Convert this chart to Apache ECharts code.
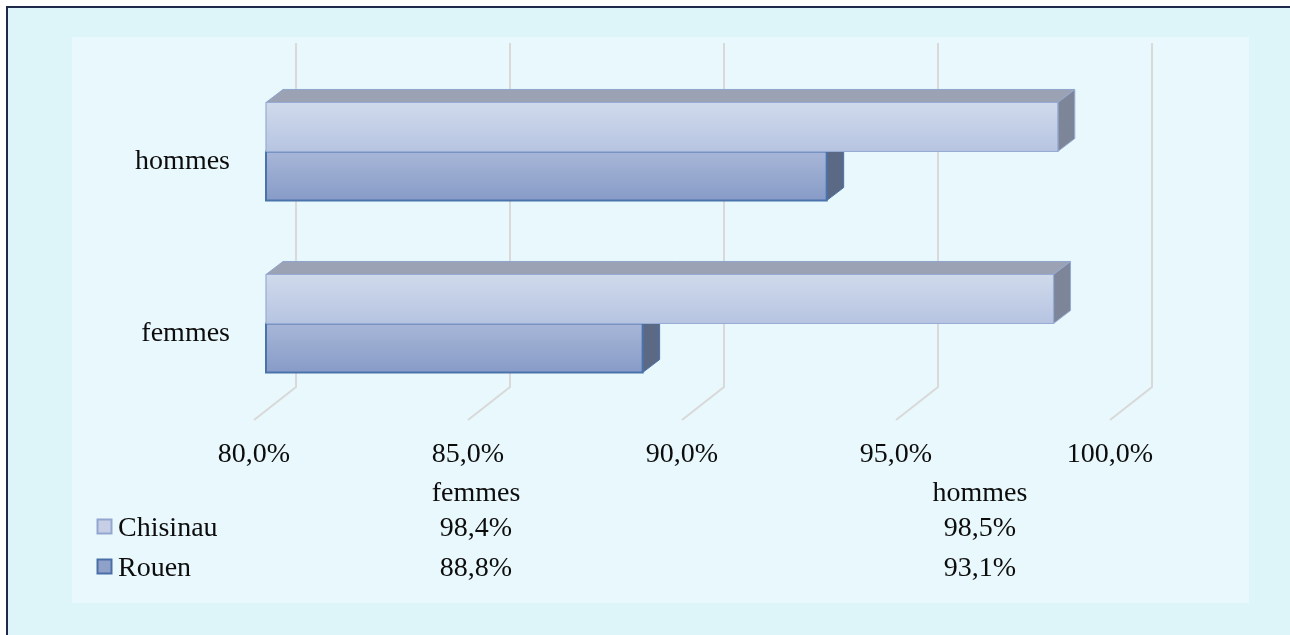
<!DOCTYPE html>
<html><head><meta charset="utf-8">
<script src="https://cdn.jsdelivr.net/npm/echarts@6/dist/echarts.min.js"></script>
<style>html,body{margin:0;padding:0;background:#fff}#c{width:1290px;height:635px}</style>
</head><body><div id="c"></div>
<script>
// ---- data ----
const categories = ['femmes', 'hommes'];
const seriesNames = ['Chisinau', 'Rouen'];
const chisinauValues = [98.4, 98.5];
const rouenValues = [88.8, 93.1];
const axisTicks = [80, 85, 90, 95, 100];
const axisMin = 80, axisMax = 100, axisStep = 5;

// ---- formatting / style ----
const fmt = v => v.toFixed(1).replace('.', ',') + '%';
const FONT = '"Liberation Serif", "Times New Roman", serif';
const FS = 28;
const TXT = '#0d0d0d';
const DEPTH_X = 42, DEPTH_Y = -33;
const BAR_OFF_X = 12, BAR_OFF_Y = -10.5, BAR_DX = 17, BAR_DY = -13, BAR_FRAC = 0.285;

const styles = {
  Chisinau: { front: ['#d0daec', '#b6c4e1'], stroke: '#97acd4', lw: 1.2, top: '#9aa2b3', side: '#7d8699', key: '#c6cfe5', keyStroke: '#93a6cf' },
  Rouen:    { front: ['#a8b7d8', '#879bc7'], stroke: '#4a72ab', lw: 2,   top: '#9aa2b3', side: '#5c6985', key: '#8fa1c9', keyStroke: '#4a6fa8' }
};

function makeBarRender(name, upper) {
  const st = styles[name];
  return function (params, api) {
    const v = api.value(0), c = api.value(1);
    const base = api.coord([axisMin, c]);
    const end = api.coord([v, c]);
    const band = api.size([0, 1])[1];
    const h = band * BAR_FRAC;
    const x0 = base[0] + BAR_OFF_X, x1 = end[0] + BAR_OFF_X;
    const cy = base[1] + BAR_OFF_Y;
    const y0 = upper ? cy - h : cy;
    const y1 = y0 + h;
    return { type: 'group', children: [
      { type: 'polygon', shape: { points: [[x0, y0], [x0 + BAR_DX, y0 + BAR_DY], [x1 + BAR_DX, y0 + BAR_DY], [x1, y0]] },
        style: { fill: st.top, stroke: '#8ea5cf', lineWidth: 1 } },
      { type: 'polygon', shape: { points: [[x1, y0], [x1 + BAR_DX, y0 + BAR_DY], [x1 + BAR_DX, y1 + BAR_DY], [x1, y1]] },
        style: { fill: st.side, stroke: st.stroke, lineWidth: 1 } },
      { type: 'rect', shape: { x: x0, y: y0, width: x1 - x0, height: h },
        style: { fill: { type: 'linear', x: 0, y: 0, x2: 0, y2: 1, colorStops: [{ offset: 0, color: st.front[0] }, { offset: 1, color: st.front[1] }] },
                 stroke: st.stroke, lineWidth: st.lw } }
    ] };
  };
}

// ---- data table (graphic built from arrays) ----
const colX = [476, 980];
const headerY = 494, rowY = [529, 569];
const tableGraphics = [];
categories.forEach((cat, i) => {
  tableGraphics.push({ type: 'text', x: colX[i], y: headerY, z: 5,
    style: { text: cat, fontSize: FS, fontFamily: FONT, fill: TXT, align: 'center', verticalAlign: 'middle' } });
});
const seriesValues = [chisinauValues, rouenValues];
seriesNames.forEach((name, r) => {
  const st = styles[name];
  tableGraphics.push({ type: 'rect', z: 5, shape: { x: 97.5, y: rowY[r] - 9.5, width: 14, height: 14 },
    style: { fill: st.key, stroke: st.keyStroke, lineWidth: 2 } });
  tableGraphics.push({ type: 'text', x: 118, y: rowY[r], z: 5,
    style: { text: name, fontSize: FS, fontFamily: FONT, fill: TXT, align: 'left', verticalAlign: 'middle' } });
  seriesValues[r].forEach((v, i) => {
    tableGraphics.push({ type: 'text', x: colX[i], y: rowY[r], z: 5,
      style: { text: fmt(v), fontSize: FS, fontFamily: FONT, fill: TXT, align: 'center', verticalAlign: 'middle' } });
  });
});

const chart = echarts.init(document.getElementById('c'), null, { renderer: 'canvas' });
chart.setOption({
  backgroundColor: '#ffffff',
  animation: false,
  graphic: [
    { type: 'rect', z: -10, shape: { x: 7, y: 7, width: 1400, height: 800 }, style: { fill: '#ddf4f8', stroke: '#1f2a4b', lineWidth: 2 } },
    { type: 'rect', z: -9, shape: { x: 72, y: 37, width: 1177, height: 566 }, style: { fill: '#e8f8fc' } },
    ...tableGraphics
  ],
  grid: { left: 254, right: 180, top: 76, bottom: 215, containLabel: false },
  xAxis: {
    type: 'value', min: axisMin, max: axisMax, interval: axisStep,
    axisLine: { show: false }, axisTick: { show: false }, splitLine: { show: false },
    axisLabel: { formatter: fmt, fontSize: FS, fontFamily: FONT, color: TXT, margin: 21, lineHeight: 28 }
  },
  yAxis: {
    type: 'category', data: categories,
    axisLine: { show: false }, axisTick: { show: false }, splitLine: { show: false },
    axisLabel: { fontSize: FS, fontFamily: FONT, color: TXT, margin: 24, lineHeight: 28, padding: [9, 0, 0, 0] }
  },
  series: [
    { type: 'custom', name: 'grid3d', silent: true, z: 1,
      data: axisTicks.map(v => [v, 0]),
      renderItem: (params, api) => {
        const cs = params.coordSys;
        const x = api.coord([api.value(0), 0])[0];
        const yb = cs.y + cs.height;
        return { type: 'polyline', shape: { points: [[x + DEPTH_X, cs.y + DEPTH_Y], [x + DEPTH_X, yb + DEPTH_Y], [x, yb]] },
                 style: { stroke: '#d9d9d9', lineWidth: 2, fill: null } };
      } },
    { type: 'custom', name: 'Rouen', z: 2, data: rouenValues.map((v, i) => [v, i]), renderItem: makeBarRender('Rouen', false) },
    { type: 'custom', name: 'Chisinau', z: 3, data: chisinauValues.map((v, i) => [v, i]), renderItem: makeBarRender('Chisinau', true) }
  ]
});
</script></body></html>
